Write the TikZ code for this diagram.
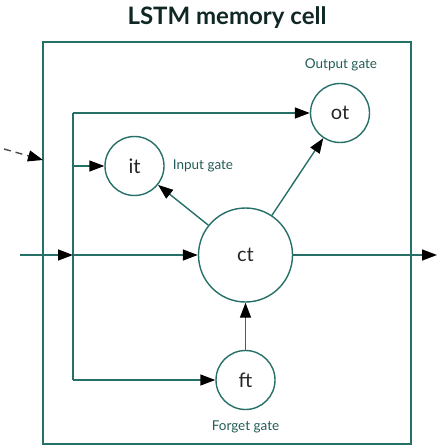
\documentclass[tikz,border=0pt]{standalone}
\usepackage{fontspec}
\setmainfont{Lato}
\usepackage{tikz}
\usetikzlibrary{positioning, calc, arrows.meta}

\definecolor{cellline}{RGB}{38,112,104}
\definecolor{celltext}{RGB}{34,92,86}
\definecolor{celltitle}{RGB}{16,40,37}

\tikzset{
    gate/.style={circle, draw=cellline, line width=1.4pt, minimum size=59pt, inner sep=0pt, font=\fontsize{20}{24}\selectfont, text=black!85},
    flow/.style={draw=cellline, line width=1.4pt, -{Triangle[length=15pt, width=11pt, color=black]}},
    gatelabel/.style={text=celltext, font=\fontsize{13.5}{16}\selectfont}
}

\begin{document}
\begin{tikzpicture}[x=1pt, y=-1pt]
    \useasboundingbox (0,0) rectangle (442,446);

    % Title and cell box
    \node[font=\fontsize{24}{28}\selectfont\bfseries, text=celltitle] (title) at (227,18) {LSTM memory cell};
    \draw[cellline, line width=1.8pt] (43,42) rectangle (411,444);

    % Gates
    \node[gate] (it) at (134.5,166) {it};
    \node[gate] (ot) at (340,113) {ot};
    \node[gate, minimum size=94pt] (ct) at (245.5,255) {ct};
    \node[gate] (ft) at (245.5,380) {ft};

    % Gate labels
    \node[gatelabel] (itlabel) at (203,166) {Input gate};
    \node[gatelabel] (otlabel) at (341,65) {Output gate};
    \node[gatelabel] (ftlabel) at (245.5,427) {Forget gate};

    % Spine and end points
    \coordinate (spineTop) at (73,113);
    \coordinate (spineIt) at (73,166);
    \coordinate (spineMid) at (73,255);
    \coordinate (spineBot) at (73,380);
    \coordinate (inL) at (20,255);
    \coordinate (outR) at (437,255);
    \coordinate (dashA) at (4,149);
    \coordinate (dashB) at (43,160);

    \draw[cellline, line width=1.4pt] (spineTop) -- (spineBot);
    \draw[flow] (spineTop) -- (ot);
    \draw[flow] (spineIt) -- (it);
    \draw[flow] (spineBot) -- (ft);

    % Main stream
    \draw[flow] (inL) -- (spineMid);
    \draw[flow] (spineMid) -- (ct);
    \draw[flow] (ct) -- (outR);

    % Cell to gates
    \draw[flow] (ct) -- (it);
    \draw[flow] (ct) -- (ot);
    \draw[flow] (ft) -- (ct);

    % Recurrent input
    \draw[flow, draw=black!70, dashed, dash pattern=on 7pt off 5pt] (dashA) -- (dashB);
\end{tikzpicture}
\end{document}
